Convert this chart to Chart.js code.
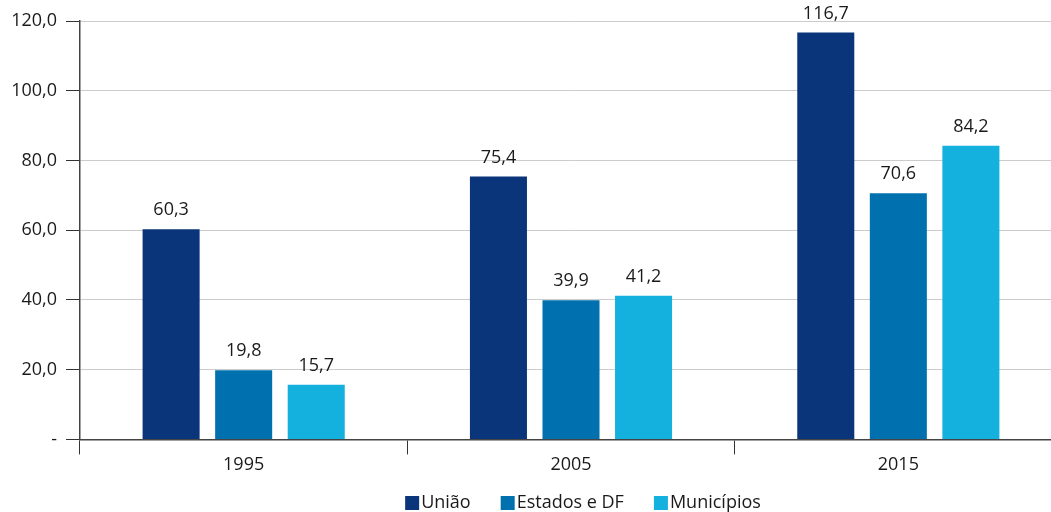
<!DOCTYPE html>
<html lang="pt">
<head>
    <meta charset="UTF-8">
    <title>União, Estados e DF, Municípios</title>
    <script src="https://cdn.jsdelivr.net/npm/chart.js"></script>
    <style>
        html, body {
            margin: 0;
            padding: 0;
            background: #ffffff;
            overflow: hidden;
        }
        /* the plot runs a little past the right edge of the picture, as in the original */
        .chart-container {
            position: relative;
            width: 1062px;
            height: 512px;
        }
    </style>
</head>
<body>
    <div class="chart-container">
        <canvas id="fundsChart"></canvas>
    </div>

    <script>
        // values
        const years = ['1995', '2005', '2015'];
        const uniao = [60.3, 75.4, 116.7];
        const estados = [19.8, 39.9, 70.6];
        const municipios = [15.7, 41.2, 84.2];
        const seriesNames = ['União', 'Estados e DF', 'Municípios'];

        const fontFamily = "'Open Sans', 'DejaVu Sans', sans-serif";
        const textColor = '#1a1a1a';

        function fmt(v) {
            return v.toFixed(1).replace('.', ',');
        }

        // labels above each bar
        const valueLabels = {
            id: 'valueLabels',
            afterDatasetsDraw(chart) {
                const ctx = chart.ctx;
                ctx.save();
                ctx.font = '18px ' + fontFamily;
                ctx.fillStyle = textColor;
                ctx.textAlign = 'center';
                ctx.textBaseline = 'bottom';
                chart.data.datasets.forEach((ds, i) => {
                    chart.getDatasetMeta(i).data.forEach((bar, j) => {
                        ctx.fillText(fmt(ds.data[j]), bar.x, bar.y - 10);
                    });
                });
                ctx.restore();
            }
        };

        // legend with the text right next to the square, as in the original
        const tightLegend = {
            id: 'tightLegend',
            afterDraw(chart) {
                const ctx = chart.ctx;
                const box = 14, gap = 2, itemGap = 30;
                ctx.save();
                ctx.font = '18px ' + fontFamily;
                const items = chart.data.datasets.map(ds => ({
                    text: ds.label,
                    color: ds.backgroundColor,
                    w: box + gap + ctx.measureText(ds.label).width
                }));
                const total = items.reduce((s, it) => s + it.w, 0) + itemGap * (items.length - 1);
                let x = 583 - total / 2;
                const cy = 503;
                ctx.textBaseline = 'middle';
                ctx.textAlign = 'left';
                items.forEach(it => {
                    ctx.fillStyle = it.color;
                    ctx.fillRect(x, cy - box / 2, box, box);
                    ctx.fillStyle = textColor;
                    ctx.fillText(it.text, x + box + gap, cy);
                    x += it.w + itemGap;
                });
                ctx.restore();
            }
        };

        const ctx = document.getElementById('fundsChart').getContext('2d');
        new Chart(ctx, {
            type: 'bar',
            data: {
                labels: years,
                datasets: [
                    { label: seriesNames[0], data: uniao, backgroundColor: '#0a357a' },
                    { label: seriesNames[1], data: estados, backgroundColor: '#0071ae' },
                    { label: seriesNames[2], data: municipios, backgroundColor: '#14b0de' }
                ]
            },
            options: {
                responsive: true,
                maintainAspectRatio: false,
                animation: false,
                datasets: {
                    bar: {
                        categoryPercentage: 0.665,
                        barPercentage: 0.786
                    }
                },
                layout: {
                    padding: { top: 21, right: 0, left: 0, bottom: 36 }
                },
                scales: {
                    x: {
                        grid: {
                            drawOnChartArea: false,
                            color: '#333333',
                            tickLength: 15,
                            offset: true
                        },
                        border: { color: '#444444', width: 1.5 },
                        ticks: {
                            color: textColor,
                            font: { family: fontFamily, size: 18 },
                            padding: 0
                        }
                    },
                    y: {
                        min: 0,
                        max: 120,
                        afterFit(scale) { scale.width = 80; },
                        grid: {
                            color: '#cccccc',
                            tickColor: '#333333',
                            tickLength: 14
                        },
                        border: { color: '#444444', width: 1.5 },
                        ticks: {
                            stepSize: 20,
                            color: textColor,
                            padding: 9,
                            font: { family: fontFamily, size: 18 },
                            callback: v => v === 0 ? '-' : fmt(v)
                        }
                    }
                },
                plugins: {
                    legend: { display: false },
                    tooltip: { enabled: false }
                }
            },
            plugins: [valueLabels, tightLegend]
        });
    </script>
</body>
</html>
